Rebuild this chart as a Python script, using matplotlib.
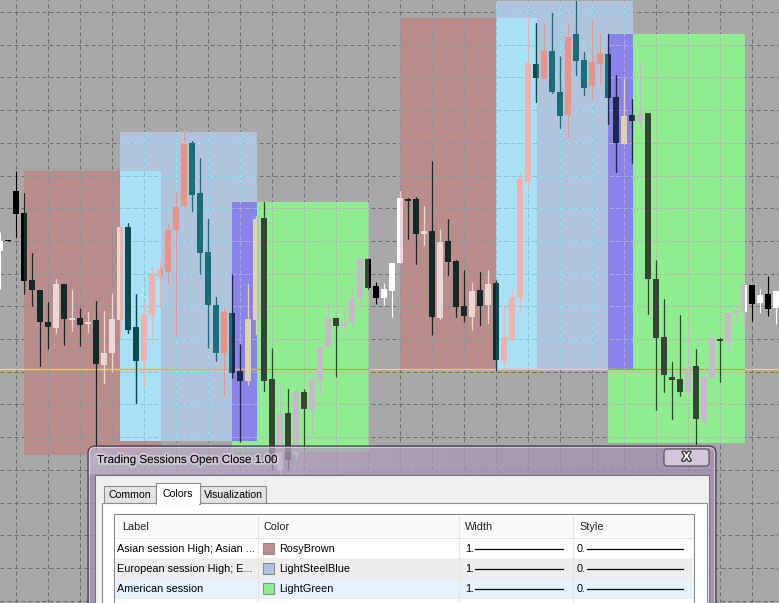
import numpy as np
import matplotlib.pyplot as plt
from matplotlib.patches import Rectangle, FancyBboxPatch
import matplotlib.patheffects as pe

# ---- candles, one per bar (price in chart points) ----
bar_open = [349, 360, 409, 387, 320, 310, 278, 272, 316, 280, 282, 276, 280, 235, 247, 280,
            373, 273, 239, 285, 323, 328, 370, 394, 457, 407, 348, 295, 247, 287, 229, 219,
            280, 382, 221, 130, 187, 145, 208, 190, 219, 253, 282, 274, 278, 302, 341, 314,
            302, 309, 337, 401, 401, 366, 369, 282, 359, 339, 294, 283, 310, 295, 317, 239,
            261, 302, 418, 536, 521, 549, 508, 485, 566, 540, 514, 536, 546, 503, 456, 485,
            478, 487, 321, 263, 223, 221, 208, 234, 178, 222, 261, 258, 286, 288, 315, 297,
            306, 292]
bar_high = [368, 360, 429, 407, 347, 310, 298, 321, 316, 310, 292, 288, 299, 289, 307, 374,
            377, 306, 297, 333, 341, 377, 408, 469, 459, 442, 381, 303, 293, 326, 256, 316,
            384, 398, 252, 218, 211, 209, 211, 228, 255, 298, 282, 293, 313, 342, 342, 318,
            317, 337, 409, 402, 403, 394, 439, 371, 381, 340, 330, 317, 328, 330, 320, 295,
            311, 428, 583, 577, 577, 587, 544, 577, 599, 548, 581, 568, 566, 525, 522, 501,
            538, 487, 340, 301, 238, 285, 270, 251, 232, 267, 262, 289, 296, 315, 315, 311,
            324, 310]
bar_low = [311, 359, 363, 306, 294, 234, 251, 267, 255, 269, 254, 268, 150, 217, 228, 262,
           267, 197, 214, 257, 293, 316, 264, 392, 389, 326, 252, 239, 204, 222, 158, 215,
           266, 209, 130, 125, 130, 140, 150, 161, 204, 253, 223, 266, 272, 293, 311, 296,
           295, 283, 337, 361, 336, 355, 265, 281, 325, 283, 278, 270, 275, 277, 230, 234,
           259, 289, 411, 498, 521, 507, 472, 462, 525, 505, 500, 514, 476, 428, 456, 437,
           469, 286, 190, 208, 181, 204, 203, 156, 176, 222, 218, 249, 277, 273, 279, 287,
           284, 276]
bar_close = [359, 359, 386, 319, 310, 278, 273, 316, 281, 282, 275, 278, 236, 247, 281, 373,
             270, 239, 285, 325, 331, 370, 393, 456, 405, 347, 295, 247, 288, 227, 219, 281,
             381, 219, 140, 186, 140, 209, 191, 220, 253, 282, 274, 278, 302, 342, 312, 302,
             311, 337, 402, 399, 366, 369, 283, 358, 338, 293, 284, 309, 294, 316, 240, 263,
             303, 421, 537, 522, 549, 508, 484, 563, 539, 512, 538, 547, 502, 457, 484, 479,
             486, 321, 262, 225, 220, 208, 233, 181, 223, 262, 259, 287, 289, 315, 296, 305,
             291, 309]

# ---- trading session boxes (bar index range, price range) ----
sess_name = ['Asian', 'European', 'American', 'Asian', 'European', 'American']
sess_start = [3, 15, 29, 50, 62, 76]
sess_end = [20, 32, 46, 67, 79, 93]
sess_high = [429, 468, 398, 582, 599, 566]
sess_low = [145, 159, 148, 230, 231, 157]

bid_level = 231

# ---- settings dialog table ----
tab_names = ['Common', 'Colors', 'Visualization']
col_heads = ['Label', 'Color', 'Width', 'Style']
row_labels = ['Asian session High; Asian ...', 'European session High; E...', 'American session']
row_colors = ['RosyBrown', 'LightSteelBlue', 'LightGreen']
row_widths = ['1.', '1.', '1.']
row_styles = ['0.', '0.', '0.']

# chart colours as they show up on each background
palette = {
    None: dict(fill=None, grid='#6C6C6C', bull='#FFFFFF', bear='#000000', bid='#F2E23A'),
    'Asian': dict(fill='#BA8C8C', grid='#80A2A2', bull='#EBD7D7', bear='#142828', bid='#ECD04E'),
    'European': dict(fill='#B0C4DE', grid='#80EEF4', bull='#E8948A', bear='#1A6E76', bid='#E4A86C'),
    'American': dict(fill='#90EE90', grid='#C4BCC4', bull='#C8B8CC', bear='#364436', bid='#C8963C'),
    'Asian+European': dict(fill='#A8E2F6', grid='#8EC4D4', bull='#F4B0AA', bear='#0E4850', bid='#E8A878'),
    'European+American': dict(fill='#8A84E8', grid='#A4A8EE', bull='#DCD4AC', bear='#1E2650', bid='#D8B070'),
}

fig = plt.figure(figsize=(7.79, 6.03), dpi=100, facecolor='#A8A8A8')
ax = fig.add_axes([0, 0, 1, 1])
ax.set_xlim(0, 779 / 8)
ax.set_ylim(-3, 600)
ax.axis('off')

x = np.arange(len(bar_open))
o = np.array(bar_open)
c = np.array(bar_close)
hi = np.array(bar_high)
lo = np.array(bar_low)
bull = c >= o
vgrid = np.arange(2, 98, 4)
hgrid = np.arange(588, -3, -32.7)
dash = (0, (4, 3))


def draw_layer(pal, clip=None, z=2):
    cols = np.where(bull, pal['bull'], pal['bear'])
    arts = [
        ax.vlines(vgrid, -3, 600, colors=pal['grid'], lw=0.72, linestyles=dash, zorder=z),
        ax.hlines(hgrid, 0, 98, colors=pal['grid'], lw=0.72, linestyles=dash, zorder=z),
        ax.axhline(bid_level, color=pal['bid'], lw=0.85, zorder=z + 0.05),
        ax.vlines(x, lo, hi, colors=cols, lw=0.8, zorder=z + 0.1),
    ]
    bars = ax.bar(x, c - o, bottom=o, width=0.68, color=cols, lw=0, zorder=z + 0.2,
                  antialiased=False)
    arts += list(bars.patches)
    if clip is not None:
        for a in arts:
            a.set_clip_path(clip)


def box(i0, i1, p0, p1):
    return Rectangle((i0, p0), i1 - i0 + 0.125, p1 - p0, transform=ax.transData)


# session fills and their overlaps
boxes = []
for n, s, e, h, l in zip(sess_name, sess_start, sess_end, sess_high, sess_low):
    ax.add_patch(Rectangle((s, l), e - s + 0.125, h - l, fc=palette[n]['fill'], lw=0, zorder=1))
    boxes.append((n, box(s, e, l, h)))

overlaps = []
for i in range(len(sess_name)):
    for j in range(i + 1, len(sess_name)):
        s0, s1 = max(sess_start[i], sess_start[j]), min(sess_end[i], sess_end[j])
        l0, h0 = max(sess_low[i], sess_low[j]), min(sess_high[i], sess_high[j])
        if s1 > s0 and h0 > l0:
            key = sess_name[i] + '+' + sess_name[j]
            ax.add_patch(Rectangle((s0, l0), s1 - s0 + 0.125, h0 - l0,
                                   fc=palette[key]['fill'], lw=0, zorder=1.5))
            overlaps.append((key, box(s0, s1, l0, h0)))

draw_layer(palette[None], None, z=2)
for n, b in boxes:
    draw_layer(palette[n], b, z=3)
for n, b in overlaps:
    draw_layer(palette[n], b, z=4)

# ---- dialog window (drawn in screen pixels) ----
ui = fig.add_axes([0, 0, 1, 1], zorder=10)
ui.axis('off')
ui.patch.set_alpha(0)
font = 'Liberation Sans'

ui.add_patch(FancyBboxPatch((88, 446), 628, 200, boxstyle='round,pad=0,rounding_size=7',
                            fc='#A290B2', ec='none', alpha=0.74))
glare = np.ones((1, 256, 4))
glare[0, :, 3] = np.linspace(0.38, 0.0, 256) ** 1.5
ui.imshow(glare, extent=(88, 716, 474, 447), aspect='auto', zorder=2)
ui.add_patch(FancyBboxPatch((88, 446), 628, 200, boxstyle='round,pad=0,rounding_size=7',
                            fc='none', ec='#3A3240', lw=0.8, zorder=3))
ui.add_patch(FancyBboxPatch((89.5, 447.5), 625, 200, boxstyle='round,pad=0,rounding_size=6',
                            fc='none', ec=(1, 1, 1, 0.45), lw=0.7, zorder=3))
ui.text(97, 460, 'Trading Sessions Open Close 1.00', fontsize=8.4, family=font, va='center',
        color='#101010', zorder=4,
        path_effects=[pe.withStroke(linewidth=3, foreground=(1, 1, 1, 0.35))])

# close button
ui.add_patch(FancyBboxPatch((664, 449), 45, 17, boxstyle='round,pad=0,rounding_size=3',
                            fc='#D2C6D8', ec='#554A5C', lw=0.8, zorder=4))
ui.text(686.5, 457.5, 'X', fontsize=9, fontweight='bold', family=font, ha='center',
        va='center', color='white', zorder=5,
        path_effects=[pe.withStroke(linewidth=2, foreground='#3C3C3C')])

# client area, tabs, tab page
ui.add_patch(Rectangle((95, 475), 614, 140, fc='#F0F0F0', ec='#7C7484', lw=0.8, zorder=4))
ui.add_patch(Rectangle((102, 503), 605, 120, fc='#FFFFFF', ec='#898C95', lw=0.8, zorder=5))
tab_x = [104, 156, 200]
tab_w = [52, 44, 66]
for name, tx, tw in zip(tab_names, tab_x, tab_w):
    sel = name == 'Colors'
    ty = 483 if sel else 486
    ui.add_patch(Rectangle((tx, ty), tw, 503 - ty + (1 if sel else 0),
                           fc='#FFFFFF' if sel else '#E4E4E4', ec='#898C95', lw=0.8,
                           zorder=6 if sel else 4.5))
    ui.text(tx + tw / 2, 494 if sel else 495.5, name, fontsize=7.6, family=font,
            ha='center', va='center', color='#000000', zorder=7)
ui.add_patch(Rectangle((156.6, 502), 42.8, 3, fc='#FFFFFF', ec='none', zorder=6.5))

# list view
ui.add_patch(Rectangle((114, 514), 580, 100, fc='#FFFFFF', ec='#828790', lw=0.8, zorder=7))
ui.add_patch(Rectangle((115, 515), 578, 22, fc='#F9F9FA', ec='none', zorder=7.1))
ui.plot([115, 693], [537.5, 537.5], color='#E2E2E2', lw=0.8, zorder=7.2)
col_x = [122, 264, 465, 579]
for head, hx in zip(col_heads, col_x):
    ui.text(hx, 527, head, fontsize=7.8, family=font, va='center', color='#1E1E1E', zorder=8)

row_bg = ['#FFFFFF', '#EEEEEE', '#E8F2FC']
for k, (lab, cname, w, st) in enumerate(zip(row_labels, row_colors, row_widths, row_styles)):
    y0 = 538 + 20 * k
    yc = y0 + 10.5
    ui.add_patch(Rectangle((115, y0), 578, 20, fc=row_bg[k], ec='none', zorder=7.1))
    ui.plot([115, 693], [y0 + 20, y0 + 20], color='#EDEDED', lw=0.8, zorder=7.2)
    ui.text(117, yc, lab, fontsize=7.8, family=font, va='center', color='#000000', zorder=8)
    ui.add_patch(Rectangle((263, yc - 5.5), 11, 11, fc=cname.lower(), ec='#8C8C8C',
                           lw=0.8, zorder=8))
    ui.text(279, yc, cname, fontsize=7.8, family=font, va='center', color='#000000', zorder=8)
    ui.text(465, yc, w, fontsize=7.8, family=font, va='center', color='#000000', zorder=8)
    ui.plot([475, 563], [yc + 0.5, yc + 0.5], color='#000000', lw=0.9, zorder=8)
    ui.text(577, yc, st, fontsize=7.8, family=font, va='center', color='#000000', zorder=8)
    ui.plot([587, 683], [yc + 0.5, yc + 0.5], color='#000000', lw=0.9, zorder=8)
for sx in [258, 459, 573]:
    ui.plot([sx, sx], [515, 603], color='#E5E5E5', lw=0.8, zorder=7.3)

ui.set_xlim(0, 779)
ui.set_ylim(603, 0)

fig.savefig('out.png', dpi=100, facecolor=fig.get_facecolor())
